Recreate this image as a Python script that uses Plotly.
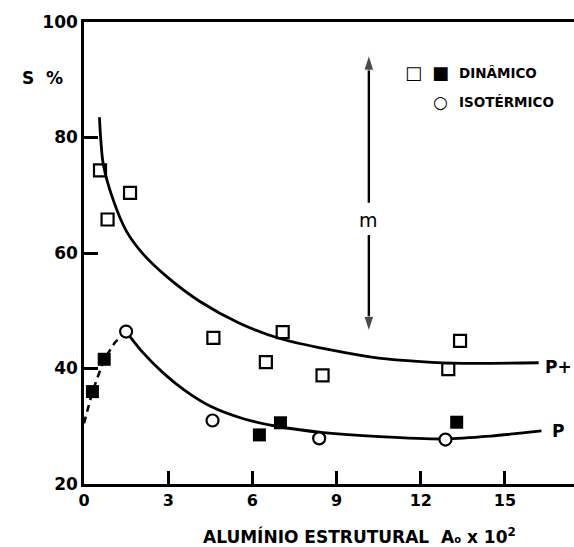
import plotly.graph_objects as go

# ---- data ----
# open squares: dinamico (upper series)
din_open_x = [0.57, 0.84, 1.64, 4.61, 6.48, 7.08, 8.5, 12.98, 13.4]
din_open_y = [74.3, 65.8, 70.4, 45.3, 41.1, 46.3, 38.8, 39.9, 44.8]
# filled squares: dinamico (lower series)
din_fill_x = [0.3, 0.72, 6.25, 7.0, 13.28]
din_fill_y = [36.0, 41.6, 28.5, 30.6, 30.7]
# open circles: isotermico
iso_x = [1.5, 4.58, 8.38, 12.88]
iso_y = [46.4, 31.0, 27.9, 27.7]

# fitted curve P+ (upper)
up_x = [0.55, 0.6, 0.69, 1.04, 1.52, 2.11, 2.95, 4.13, 5.56, 6.98, 8.7, 10.5, 12.0, 13.5, 16.2]
up_y = [83.5, 79.5, 75.3, 69.2, 63.7, 59.8, 55.9, 51.6, 47.8, 45.2, 43.3, 41.8, 41.2, 40.9, 41.0]
# fitted curve P (lower)
lo_x = [1.5, 2.11, 2.83, 3.54, 4.49, 5.68, 6.86, 8.53, 10.54, 12.88, 14.5, 16.3]
lo_y = [46.4, 42.7, 39.2, 36.4, 33.5, 31.3, 30.0, 28.9, 28.2, 27.8, 28.3, 29.2]
# dashed initial rise
dash_x = [0.0, 0.3, 0.72, 1.1, 1.5]
dash_y = [30.5, 36.0, 41.6, 44.5, 46.4]

# double arrow "m"
m_x = 10.15
m_top = 94.3
m_bottom = 46.4
m_gap_hi = 68.7
m_gap_lo = 63.1
m_label_y = 65.8

x_ticks = [0, 3, 6, 9, 12, 15]
y_ticks = [20, 40, 60, 80, 100]

FONT = "DejaVu Sans"
BOLD = dict(family=FONT, color="black", weight="bold")

fig = go.Figure()
fig.add_trace(go.Scatter(x=up_x, y=up_y, mode="lines",
                         line=dict(color="black", width=2.8, shape="spline", smoothing=0.9), hoverinfo="skip"))
fig.add_trace(go.Scatter(x=lo_x, y=lo_y, mode="lines",
                         line=dict(color="black", width=2.8, shape="spline", smoothing=0.8), hoverinfo="skip"))
fig.add_trace(go.Scatter(x=dash_x, y=dash_y, mode="lines",
                         line=dict(color="black", width=2.5, dash="7px,5px"), hoverinfo="skip"))
# double arrow as two arrow-tipped segments
for tip, start in ((m_top, m_gap_hi), (m_bottom, m_gap_lo)):
    fig.add_trace(go.Scatter(x=[m_x, m_x], y=[start, tip], mode="lines+markers",
                             line=dict(color="black", width=2.4),
                             marker=dict(symbol="arrow", angleref="previous", size=[0, 16], color="black"),
                             hoverinfo="skip"))
fig.add_trace(go.Scatter(x=din_open_x, y=din_open_y, mode="markers",
                         marker=dict(symbol="square-open", size=12, color="black", line=dict(width=2.2, color="black"))))
fig.add_trace(go.Scatter(x=din_fill_x, y=din_fill_y, mode="markers",
                         marker=dict(symbol="square", size=13, color="black")))
fig.add_trace(go.Scatter(x=iso_x, y=iso_y, mode="markers",
                         marker=dict(symbol="circle", size=12, color="white", line=dict(width=2.2, color="black"))))

def A(x, y, text, size, xref="paper", yref="paper", xanchor="center", bold=True):
    f = dict(BOLD, size=size) if bold else dict(family=FONT, color="black", size=size)
    return dict(x=x, y=y, xref=xref, yref=yref, text=text, showarrow=False,
                xanchor=xanchor, yanchor="middle", font=f)

ann = [
    A(m_x, m_label_y, "m", 19, "x", "y", bold=False),
    A(16.35, 40.3, "P+", 17, "x", "y", "left"),
    A(16.6, 29.2, "P", 17, "x", "y", "left"),
    # legend
    A(0.673, 0.89, "□", 18),
    A(0.727, 0.89, "■", 18),
    A(0.727, 0.827, "○", 17),
    A(0.761, 0.89, "DINÂMICO", 13.5, xanchor="left"),
    A(0.761, 0.827, "ISOTÉRMICO", 13.5, xanchor="left"),
    # axis titles
    A(0.563, -0.112,
      "ALUMÍNIO ESTRUTURAL  A<span style='font-size:10px'>o</span> x 10<sup>2</sup>", 17),
    A(-0.084, 0.879, "S  %", 17),
]

fig.update_layout(
    width=574, height=547,
    margin=dict(l=84, r=0, t=22, b=63),
    paper_bgcolor="white", plot_bgcolor="white",
    showlegend=False,
    annotations=ann,
    xaxis=dict(range=[0, 17.46], tickvals=x_ticks, ticks="inside", ticklen=13, tickwidth=2.5,
               tickcolor="black", showline=True, linewidth=2.5, linecolor="black", mirror=True,
               showgrid=False, zeroline=False, tickfont=dict(BOLD, size=16)),
    yaxis=dict(range=[20, 100], tickvals=y_ticks, ticks="inside", ticklen=14, tickwidth=2.5,
               tickcolor="black", showline=True, linewidth=2.5, linecolor="black",
               showgrid=False, zeroline=False, tickfont=dict(BOLD, size=17)),
)

fig.write_html("out.html")
